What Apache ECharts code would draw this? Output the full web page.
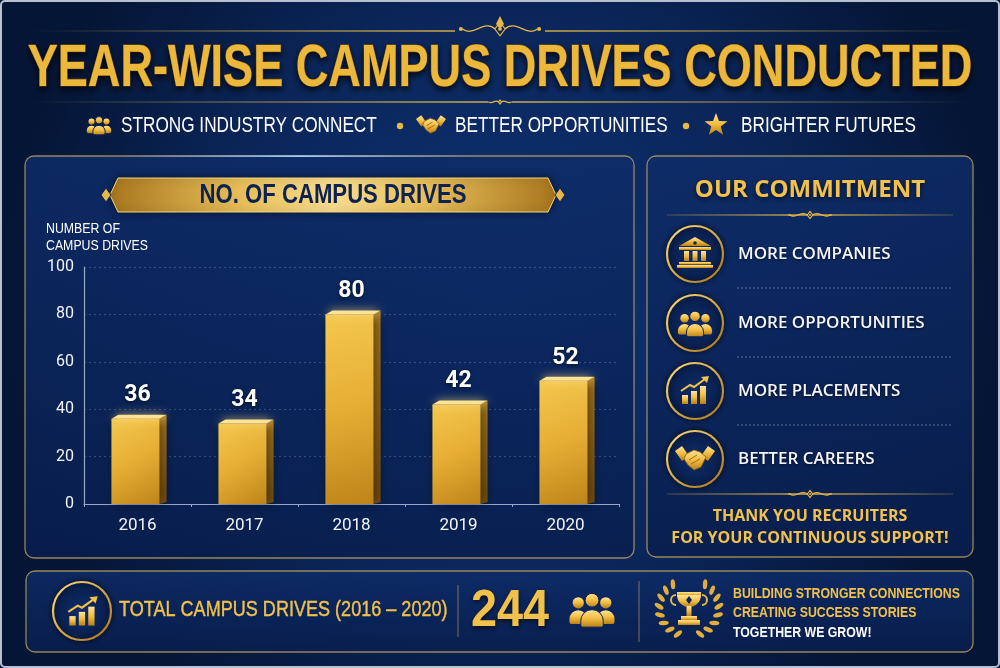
<!DOCTYPE html>
<html>
<head>
<meta charset="utf-8">
<title>Year-wise Campus Drives Conducted</title>
<script src="https://cdn.jsdelivr.net/npm/echarts@6/dist/echarts.min.js"></script>
<style>
  html, body { margin: 0; padding: 0; background: #061535; }
  #chart { width: 1000px; height: 668px; }
</style>
</head>
<body>
<div id="chart"></div>
<script>
// data
var years = ['2016', '2017', '2018', '2019', '2020'];
var drives = [36, 34, 80, 42, 52];
var yMin = 0, yMax = 100, yStep = 20;
var commitments = ['MORE COMPANIES', 'MORE OPPORTUNITIES', 'MORE PLACEMENTS', 'BETTER CAREERS'];

var total = drives.reduce(function (a, b) { return a + b; }, 0);

var GOLD = '#e8b845';
var TEXT_GOLD = '#f1c14b';
var SANS = '"Liberation Sans", Arial, sans-serif';
var G = echarts.graphic;

function goldV() {
    return new G.LinearGradient(0, 0, 0, 1, [
        { offset: 0, color: '#ffe49a' },
        { offset: 0.5, color: '#f2bd40' },
        { offset: 1, color: '#b98019' }
    ]);
}

function txt(x, y, text, font, fill, align, extra) {
    return {
        type: 'text', x: x, y: y, z: 5,
        style: Object.assign({
            text: text, font: font, fill: fill,
            align: align || 'left', verticalAlign: 'middle'
        }, extra || {})
    };
}

// narrow text: Liberation Sans squeezed horizontally (no condensed face installed)
function ntxt(x, y, text, size, weight, fill, align, sx, extra) {
    var t = txt(x, y, text, weight + ' ' + size + 'px ' + SANS, fill, align, extra);
    t.scaleX = sx || 0.82;
    return t;
}

// fading gold rule, fade = 'left' | 'right' | 'both'
function rule(x1, x2, y, fade) {
    var stops;
    if (fade === 'left') stops = [{ offset: 0, color: 'rgba(232,184,69,0)' }, { offset: 1, color: 'rgba(232,184,69,0.9)' }];
    else if (fade === 'right') stops = [{ offset: 0, color: 'rgba(232,184,69,0.9)' }, { offset: 1, color: 'rgba(232,184,69,0)' }];
    else stops = [{ offset: 0, color: 'rgba(232,184,69,0.2)' }, { offset: 0.5, color: 'rgba(232,184,69,0.9)' }, { offset: 1, color: 'rgba(232,184,69,0.2)' }];
    return { type: 'rect', z: 3, shape: { x: x1, y: y - 0.7, width: x2 - x1, height: 1.4 },
             style: { fill: new G.LinearGradient(0, 0, 1, 0, stops) } };
}

function ornament(cx, cy, s) {
    var st = { stroke: GOLD, fill: 'none', lineWidth: 1.2 };
    return [
        { type: 'polygon', z: 4, shape: { points: [[cx, cy - 4 * s], [cx + 3 * s, cy], [cx, cy + 4 * s], [cx - 3 * s, cy]] },
          style: { fill: '#0b2456', stroke: GOLD, lineWidth: 1.2 } },
        { type: 'circle', z: 4, shape: { cx: cx, cy: cy, r: 1.1 * s }, style: { fill: GOLD } },
        { type: 'bezierCurve', z: 4, shape: { x1: cx - 3 * s, y1: cy, cpx1: cx - 9 * s, cpy1: cy - 6 * s, cpx2: cx - 16 * s, cpy2: cy + 5 * s, x2: cx - 22 * s, y2: cy }, style: st },
        { type: 'bezierCurve', z: 4, shape: { x1: cx + 3 * s, y1: cy, cpx1: cx + 9 * s, cpy1: cy - 6 * s, cpx2: cx + 16 * s, cpy2: cy + 5 * s, x2: cx + 22 * s, y2: cy }, style: st },
        { type: 'circle', z: 4, shape: { cx: cx - 23 * s, cy: cy, r: 1.2 * s }, style: { fill: GOLD } },
        { type: 'circle', z: 4, shape: { cx: cx + 23 * s, cy: cy, r: 1.2 * s }, style: { fill: GOLD } }
    ];
}

function people(cx, cy, s) {
    var f = goldV();
    return [
        { type: 'circle', z: 6, shape: { cx: cx - 11 * s, cy: cy - 5 * s, r: 4.5 * s }, style: { fill: f } },
        { type: 'circle', z: 6, shape: { cx: cx + 11 * s, cy: cy - 5 * s, r: 4.5 * s }, style: { fill: f } },
        { type: 'rect', z: 6, shape: { x: cx - 18 * s, y: cy + 1 * s, width: 14 * s, height: 11 * s, r: [7 * s, 7 * s, 2, 2] }, style: { fill: f } },
        { type: 'rect', z: 6, shape: { x: cx + 4 * s, y: cy + 1 * s, width: 14 * s, height: 11 * s, r: [7 * s, 7 * s, 2, 2] }, style: { fill: f } },
        { type: 'circle', z: 7, shape: { cx: cx, cy: cy - 7 * s, r: 5.5 * s }, style: { fill: f, stroke: '#0b2456', lineWidth: 1 } },
        { type: 'rect', z: 7, shape: { x: cx - 9 * s, y: cy + 0.5 * s, width: 18 * s, height: 14 * s, r: [9 * s, 9 * s, 2, 2] }, style: { fill: f, stroke: '#0b2456', lineWidth: 1 } }
    ];
}

function growth(cx, cy, s) {
    var f = goldV();
    return [
        { type: 'rect', z: 6, shape: { x: cx - 13 * s, y: cy + 2 * s, width: 6 * s, height: 9 * s }, style: { fill: f } },
        { type: 'rect', z: 6, shape: { x: cx - 4 * s, y: cy - 2 * s, width: 6 * s, height: 13 * s }, style: { fill: f } },
        { type: 'rect', z: 6, shape: { x: cx + 5 * s, y: cy - 7 * s, width: 6 * s, height: 18 * s }, style: { fill: f } },
        { type: 'polyline', z: 6, shape: { points: [[cx - 14 * s, cy - 2 * s], [cx - 5 * s, cy - 8 * s], [cx - 1 * s, cy - 6 * s], [cx + 10 * s, cy - 14 * s]] },
          style: { stroke: '#f2c24a', lineWidth: 2 * s, fill: 'none' } },
        { type: 'polygon', z: 6, shape: { points: [[cx + 14 * s, cy - 17 * s], [cx + 6 * s, cy - 16 * s], [cx + 12 * s, cy - 10 * s]] }, style: { fill: '#f2c24a' } }
    ];
}

function bank(cx, cy) {
    var f = goldV();
    var els = [
        { type: 'polygon', z: 6, shape: { points: [[cx - 16, cy - 8], [cx, cy - 17], [cx + 16, cy - 8]] }, style: { fill: f } },
        { type: 'circle', z: 7, shape: { cx: cx, cy: cy - 11, r: 1.8 }, style: { fill: '#0b2456' } },
        { type: 'rect', z: 6, shape: { x: cx - 16, y: cy - 7, width: 32, height: 3 }, style: { fill: f } },
        { type: 'rect', z: 6, shape: { x: cx - 16, y: cy + 8, width: 32, height: 2.5 }, style: { fill: f } },
        { type: 'rect', z: 6, shape: { x: cx - 18, y: cy + 11, width: 36, height: 3 }, style: { fill: f } }
    ];
    [-11, -2.5, 6].forEach(function (dx) {
        els.push({ type: 'rect', z: 6, shape: { x: cx + dx, y: cy - 3, width: 5, height: 10 }, style: { fill: f } });
    });
    return els;
}

function handshake(cx, cy, s) {
    var f = goldV();
    return [
        { type: 'polygon', z: 6, shape: { points: [[cx - 20 * s, cy - 8 * s], [cx - 13 * s, cy - 13 * s], [cx - 6 * s, cy - 3 * s], [cx - 13 * s, cy + 2 * s]] }, style: { fill: f } },
        { type: 'polygon', z: 6, shape: { points: [[cx + 20 * s, cy - 8 * s], [cx + 13 * s, cy - 13 * s], [cx + 6 * s, cy - 3 * s], [cx + 13 * s, cy + 2 * s]] }, style: { fill: f } },
        { type: 'polygon', z: 6, shape: { points: [[cx - 9 * s, cy - 5 * s], [cx - 1 * s, cy - 9 * s], [cx + 5 * s, cy - 7 * s], [cx + 11 * s, cy - 2 * s], [cx + 6 * s, cy + 8 * s], [cx - 1 * s, cy + 11 * s], [cx - 7 * s, cy + 6 * s], [cx - 11 * s, cy]] },
          style: { fill: f, stroke: '#8a5a10', lineWidth: 0.8 } },
        { type: 'line', z: 7, shape: { x1: cx - 6 * s, y1: cy + 1 * s, x2: cx + 2 * s, y2: cy - 4 * s }, style: { stroke: '#8a5a10', lineWidth: 0.8 } },
        { type: 'line', z: 7, shape: { x1: cx - 4 * s, y1: cy + 5 * s, x2: cx + 5 * s, y2: cy }, style: { stroke: '#8a5a10', lineWidth: 0.8 } }
    ];
}

function star(cx, cy, R, r) {
    var pts = [];
    for (var i = 0; i < 10; i++) {
        var a = -Math.PI / 2 + i * Math.PI / 5;
        var rad = i % 2 === 0 ? R : r;
        pts.push([cx + rad * Math.cos(a), cy + rad * Math.sin(a)]);
    }
    return { type: 'polygon', z: 6, shape: { points: pts }, style: { fill: goldV() } };
}

function trophy(cx, cy) {
    var f = goldV();
    var els = [
        { type: 'rect', z: 6, shape: { x: cx - 12, y: cy - 20, width: 24, height: 4 }, style: { fill: f } },
        { type: 'sector', z: 6, shape: { cx: cx, cy: cy - 17, r0: 0, r: 12, startAngle: 0, endAngle: Math.PI }, style: { fill: f } },
        { type: 'arc', z: 6, shape: { cx: cx - 13, cy: cy - 12, r: 5, startAngle: Math.PI * 0.5, endAngle: Math.PI * 1.5 }, style: { stroke: GOLD, lineWidth: 2, fill: 'none' } },
        { type: 'arc', z: 6, shape: { cx: cx + 13, cy: cy - 12, r: 5, startAngle: -Math.PI * 0.5, endAngle: Math.PI * 0.5 }, style: { stroke: GOLD, lineWidth: 2, fill: 'none' } },
        { type: 'rect', z: 6, shape: { x: cx - 2.5, y: cy - 6, width: 5, height: 10 }, style: { fill: f } },
        { type: 'rect', z: 6, shape: { x: cx - 8, y: cy + 4, width: 16, height: 4 }, style: { fill: f } },
        { type: 'rect', z: 6, shape: { x: cx - 11, y: cy + 8, width: 22, height: 5 }, style: { fill: f } },
        { type: 'polygon', z: 7, shape: { points: [[cx, cy - 16], [cx + 3, cy - 12], [cx, cy - 8], [cx - 3, cy - 12]] }, style: { fill: '#0b2456' } }
    ];
    // laurel leaves
    for (var i = 0; i < 8; i++) {
        var a = Math.PI * (0.62 + i * 0.1);
        [-1, 1].forEach(function (side) {
            var ang = side < 0 ? a : Math.PI - a;
            var lx = cx + 30 * Math.cos(ang), ly = cy - 4 + 28 * Math.sin(ang);
            els.push({ type: 'circle', z: 6, x: lx, y: ly, scaleX: 0.45, rotation: -(ang + Math.PI / 2) + side * 0.5,
                       shape: { cx: 0, cy: 0, r: 5 }, style: { fill: '#e2ae3a' } });
        });
    }
    return els;
}

function circleBadge(cx, cy, r) {
    return { type: 'circle', z: 4, shape: { cx: cx, cy: cy, r: r },
             style: { fill: new G.RadialGradient(0.5, 0.5, 0.6, [{ offset: 0, color: '#0f2d68' }, { offset: 1, color: '#061a45' }]),
                      stroke: new G.LinearGradient(0, 0, 1, 1, [{ offset: 0, color: '#ffdd80' }, { offset: 1, color: '#a87418' }]),
                      lineWidth: 2.2, shadowBlur: 6, shadowColor: 'rgba(0,0,0,0.6)' } };
}

function panel(x, y, w, h) {
    return { type: 'rect', z: -5, shape: { x: x, y: y, width: w, height: h, r: 9 },
             style: { fill: new G.LinearGradient(0, 0, 0, 1, [{ offset: 0, color: 'rgba(14,44,104,0.85)' }, { offset: 1, color: 'rgba(8,30,78,0.85)' }]),
                      stroke: 'rgba(200,168,96,0.75)', lineWidth: 1.3 } };
}

var shadowTxt = { textShadowColor: 'rgba(0,0,0,0.65)', textShadowBlur: 5, textShadowOffsetY: 2 };

var gfx = [];

// background
gfx.push({ type: 'rect', z: -10, shape: { x: 0, y: 0, width: 1000, height: 668 },
           style: { fill: new G.RadialGradient(0.5, 0.45, 0.75, [{ offset: 0, color: '#0f3478' }, { offset: 0.6, color: '#0a2558' }, { offset: 1, color: '#051535' }]) } });
gfx.push({ type: 'rect', z: 20, shape: { x: 1, y: 1, width: 998, height: 666, r: 4 }, style: { fill: 'none', stroke: '#b8c0d0', lineWidth: 2 } });

// header
gfx.push(rule(30, 455, 31, 'left'), rule(545, 970, 31, 'right'));
gfx = gfx.concat(ornament(500, 29, 1.7));
gfx.push({ type: 'polygon', z: 4, shape: { points: [[500, 16], [504, 24], [500, 29], [496, 24]] }, style: { fill: GOLD } });
var title = ntxt(500, 70, 'YEAR-WISE CAMPUS DRIVES CONDUCTED', 55, 'bold', '#ecb83c', 'center', 0.82,
    { textShadowColor: 'rgba(0,0,0,0.75)', textShadowBlur: 6, textShadowOffsetY: 3, stroke: '#9a6a14', lineWidth: 1 });
title.scaleY = 1.07;
gfx.push(title);
gfx.push(rule(30, 488, 102, 'left'), rule(512, 970, 102, 'right'));
gfx = gfx.concat(ornament(500, 102, 0.5));

// subtitle strip
gfx = gfx.concat(people(99, 125, 0.68));
gfx.push(ntxt(121, 126, 'STRONG INDUSTRY CONNECT', 21.5, 'normal', '#ffffff', 'left', 0.8));
gfx.push({ type: 'circle', z: 5, shape: { cx: 400, cy: 126, r: 3.2 }, style: { fill: GOLD } });
gfx = gfx.concat(handshake(431, 125, 0.75));
gfx.push(ntxt(455, 126, 'BETTER OPPORTUNITIES', 21.5, 'normal', '#ffffff', 'left', 0.8));
gfx.push({ type: 'circle', z: 5, shape: { cx: 686, cy: 126, r: 3.2 }, style: { fill: GOLD } });
gfx.push(star(716, 125, 12, 5));
gfx.push(ntxt(741, 126, 'BRIGHTER FUTURES', 21.5, 'normal', '#ffffff', 'left', 0.8));

// left chart panel
gfx.push(panel(25, 156, 609, 402));
gfx.push({ type: 'rect', z: -4, shape: { x: 120, y: 155.3, width: 360, height: 1.6 },
           style: { fill: new G.LinearGradient(0, 0, 1, 0, [{ offset: 0, color: 'rgba(140,190,255,0)' }, { offset: 0.5, color: 'rgba(170,210,255,0.9)' }, { offset: 1, color: 'rgba(140,190,255,0)' }]) } });
gfx.push({ type: 'polygon', z: 3, shape: { points: [[118, 178], [548, 178], [556, 195], [548, 212], [118, 212], [110, 195]] },
           style: { fill: new G.LinearGradient(0, 0, 1, 0, [{ offset: 0, color: '#a8761e' }, { offset: 0.3, color: '#e8bf5a' }, { offset: 0.5, color: '#f7dc8e' }, { offset: 0.7, color: '#e8bf5a' }, { offset: 1, color: '#a8761e' }]),
                    stroke: '#f6d27a', lineWidth: 1, shadowBlur: 8, shadowColor: 'rgba(0,0,0,0.5)' } });
gfx.push({ type: 'polygon', z: 4, shape: { points: [[106, 188], [111, 195], [106, 202], [101, 195]] }, style: { fill: GOLD, stroke: '#0b2456', lineWidth: 1 } });
gfx.push({ type: 'polygon', z: 4, shape: { points: [[560, 188], [565, 195], [560, 202], [555, 195]] }, style: { fill: GOLD, stroke: '#0b2456', lineWidth: 1 } });
gfx.push(ntxt(333, 196, 'NO. OF CAMPUS DRIVES', 27, 'bold', '#0d2250', 'center', 0.82));
gfx.push(ntxt(46, 229, 'NUMBER OF', 14, 'normal', '#ffffff', 'left', 0.88));
gfx.push(ntxt(46, 246, 'CAMPUS DRIVES', 14, 'normal', '#ffffff', 'left', 0.88));

// right commitment panel
gfx.push(panel(647, 156, 326, 401));
gfx.push(txt(810, 190, 'OUR COMMITMENT', 'bold 24px "Open Sans", sans-serif', TEXT_GOLD, 'center', shadowTxt));
gfx.push(rule(667, 953, 215, 'both'));
gfx = gfx.concat(ornament(810, 215, 0.9));
var itemY = [254, 323, 391, 459];
commitments.forEach(function (label, i) {
    gfx.push(circleBadge(695, itemY[i], 28));
    gfx.push(txt(738, itemY[i], label, '600 17px "Open Sans", sans-serif', '#f4f6fb', 'left',
        { textShadowColor: 'rgba(0,0,0,0.6)', textShadowBlur: 3, textShadowOffsetY: 1 }));
    if (i < commitments.length - 1) {
        gfx.push({ type: 'line', z: 3, shape: { x1: 737, y1: itemY[i] + 34, x2: 953, y2: itemY[i] + 34 },
                   style: { stroke: 'rgba(190,200,225,0.45)', lineWidth: 1, lineDash: [2, 2] } });
    }
});
gfx = gfx.concat(bank(695, 254));
gfx = gfx.concat(people(695, 323, 0.95));
gfx = gfx.concat(growth(695, 393, 1.0));
gfx = gfx.concat(handshake(695, 459, 1.0));
gfx.push(rule(667, 953, 494, 'both'));
gfx = gfx.concat(ornament(810, 494, 0.9));
gfx.push(txt(810, 516, 'THANK YOU RECRUITERS', 'bold 16px "Open Sans", sans-serif', TEXT_GOLD, 'center'));
gfx.push(txt(810, 538, 'FOR YOUR CONTINUOUS SUPPORT!', 'bold 16px "Open Sans", sans-serif', TEXT_GOLD, 'center'));

// bottom summary strip
gfx.push(panel(26, 571, 947, 81));
gfx.push(circleBadge(82, 611, 29));
gfx = gfx.concat(growth(83, 614, 1.05));
gfx.push(ntxt(119, 610, 'TOTAL CAMPUS DRIVES (2016 – 2020)', 21.5, 'normal', TEXT_GOLD, 'left', 0.84,
    { stroke: TEXT_GOLD, lineWidth: 0.4 }));
gfx.push({ type: 'line', z: 3, shape: { x1: 458, y1: 585, x2: 458, y2: 637 }, style: { stroke: 'rgba(200,168,96,0.6)', lineWidth: 1 } });
gfx.push(ntxt(510, 612, String(total), 52, 'bold', TEXT_GOLD, 'center', 0.9, shadowTxt));
gfx = gfx.concat(people(592, 609, 1.25));
gfx.push({ type: 'line', z: 3, shape: { x1: 639, y1: 581, x2: 639, y2: 642 }, style: { stroke: 'rgba(200,168,96,0.6)', lineWidth: 1 } });
gfx = gfx.concat(trophy(689, 612));
gfx.push(ntxt(733, 594, 'BUILDING STRONGER CONNECTIONS', 15, 'bold', TEXT_GOLD, 'left', 0.82));
gfx.push(ntxt(733, 613, 'CREATING SUCCESS STORIES', 15, 'bold', TEXT_GOLD, 'left', 0.82));
gfx.push(ntxt(733, 633, 'TOGETHER WE GROW!', 15, 'bold', '#ffffff', 'left', 0.82));

// 3D gold bars drawn through the axes
function renderBar(params, api) {
    var top = api.coord([api.value(0), api.value(1)]);
    var base = api.coord([api.value(0), 0]);
    var bw = api.size([1, 0])[0] * 0.45;
    var d = 7, h = 4;
    var x0 = top[0] - bw / 2 - 2;
    return {
        type: 'group',
        children: [
            { type: 'polygon', shape: { points: [[x0 + bw, top[1]], [x0 + bw + d, top[1] - h], [x0 + bw + d, base[1] - 2], [x0 + bw, base[1]]] },
              style: { fill: new G.LinearGradient(0, 0, 0, 1, [{ offset: 0, color: '#b98220' }, { offset: 1, color: '#7c520c' }]) } },
            { type: 'rect', shape: { x: x0, y: top[1], width: bw, height: base[1] - top[1] },
              style: { fill: new G.LinearGradient(0, 0, 1, 1, [{ offset: 0, color: '#f4c84e' }, { offset: 0.5, color: '#e6ad34' }, { offset: 1, color: '#bd8519' }]),
                       shadowBlur: 12, shadowColor: 'rgba(0,0,0,0.45)', shadowOffsetX: 4 } },
            { type: 'polygon', shape: { points: [[x0, top[1]], [x0 + d, top[1] - h], [x0 + bw + d, top[1] - h], [x0 + bw, top[1]]] },
              style: { fill: '#ffe394', shadowBlur: 8, shadowColor: 'rgba(255,225,140,0.9)' } },
            { type: 'text', x: top[0], y: top[1] - 23,
              style: { text: String(api.value(1)), font: 'bold 23px Roboto, sans-serif', fill: '#ffffff',
                       align: 'center', verticalAlign: 'middle',
                       textShadowColor: 'rgba(0,0,0,0.6)', textShadowBlur: 4, textShadowOffsetY: 1 } }
        ]
    };
}

var myChart = echarts.init(document.getElementById('chart'), null, { renderer: 'canvas' });

var option = {
    backgroundColor: 'transparent',
    animation: false,
    graphic: { elements: gfx },
    grid: { left: 84, right: 381, top: 267, bottom: 164 },
    xAxis: {
        type: 'category',
        data: years,
        axisLine: { lineStyle: { color: '#9aa8c8', width: 1.2 } },
        axisTick: { show: true, length: 3, lineStyle: { color: '#9aa8c8' } },
        axisLabel: { color: '#f2f4f8', fontFamily: 'Roboto', fontSize: 17, margin: 13 }
    },
    yAxis: {
        type: 'value',
        min: yMin, max: yMax, interval: yStep,
        axisLine: { show: true, lineStyle: { color: '#9aa8c8', width: 1.2 } },
        axisTick: { show: false },
        axisLabel: { color: '#f2f4f8', fontFamily: 'Roboto', fontSize: 16, margin: 10 },
        splitLine: { lineStyle: { color: 'rgba(160,180,220,0.28)', type: [2, 3] } }
    },
    series: [{
        type: 'custom',
        renderItem: renderBar,
        encode: { x: 0, y: 1 },
        data: years.map(function (y, i) { return [i, drives[i]]; }),
        z: 5
    }]
};

myChart.setOption(option);
</script>
</body>
</html>
